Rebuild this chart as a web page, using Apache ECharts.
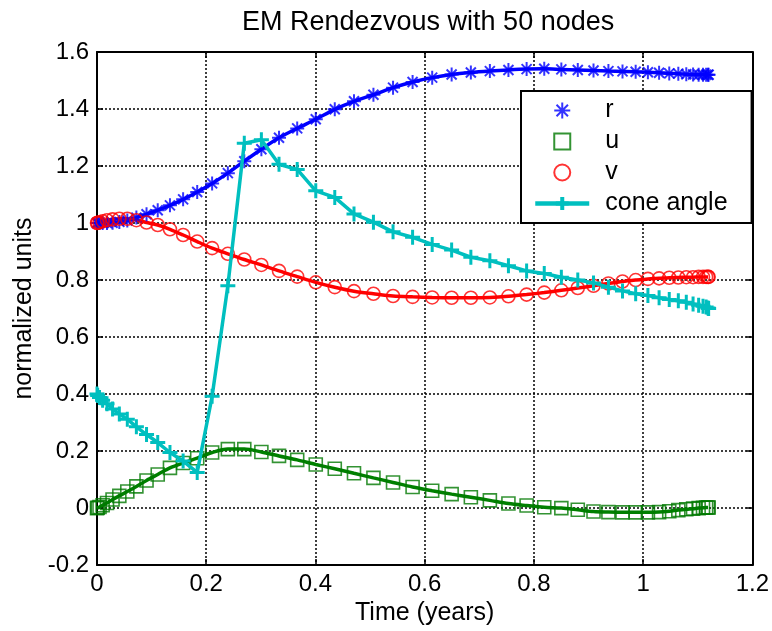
<!DOCTYPE html>
<html>
<head>
<meta charset="utf-8">
<script src="https://cdn.jsdelivr.net/npm/echarts@6/dist/echarts.min.js"></script>
<style>
html,body{margin:0;padding:0;background:#fff;}
#chart{width:772px;height:631px;}
</style>
</head>
<body>
<div id="chart"></div>
<script>
// Node times (years)
var times = [0, 0.0012, 0.0046, 0.0103, 0.0183, 0.0285, 0.0409, 0.0555, 0.0721, 0.0907,
  0.1112, 0.1336, 0.1577, 0.1835, 0.2108, 0.2396, 0.2697, 0.3010, 0.3333, 0.3666,
  0.4006, 0.4354, 0.4706, 0.5062, 0.5421, 0.5779, 0.6138, 0.6494, 0.6846, 0.7194,
  0.7534, 0.7867, 0.8190, 0.8503, 0.8804, 0.9092, 0.9365, 0.9623, 0.9864, 1.0088,
  1.0293, 1.0479, 1.0645, 1.0791, 1.0915, 1.1017, 1.1097, 1.1154, 1.1188, 1.1200];

var rValues = [1.000, 1.000, 1.000, 1.000, 1.000, 1.001, 1.004, 1.009, 1.019, 1.031,
  1.045, 1.062, 1.083, 1.109, 1.139, 1.175, 1.217, 1.259, 1.299, 1.332,
  1.364, 1.399, 1.427, 1.450, 1.475, 1.495, 1.510, 1.521, 1.528, 1.533,
  1.537, 1.540, 1.541, 1.539, 1.537, 1.535, 1.533, 1.532, 1.531, 1.529,
  1.527, 1.525, 1.524, 1.522, 1.521, 1.520, 1.520, 1.520, 1.520, 1.520];

var uValues = [0.000, 0.001, 0.004, 0.010, 0.018, 0.030, 0.043, 0.058, 0.076, 0.097,
  0.118, 0.141, 0.158, 0.175, 0.195, 0.207, 0.207, 0.197, 0.183, 0.169,
  0.153, 0.138, 0.122, 0.106, 0.090, 0.074, 0.061, 0.049, 0.038, 0.027,
  0.016, 0.009, 0.003, 0.000, -0.006, -0.012, -0.014, -0.015, -0.015, -0.015,
  -0.014, -0.011, -0.007, -0.004, -0.002, 0.000, 0.001, 0.002, 0.002, 0.002];

var vValues = [1.000, 1.001, 1.003, 1.006, 1.010, 1.013, 1.015, 1.015, 1.010, 1.002,
  0.993, 0.978, 0.958, 0.935, 0.912, 0.892, 0.872, 0.853, 0.832, 0.812,
  0.792, 0.775, 0.761, 0.752, 0.744, 0.741, 0.739, 0.738, 0.738, 0.739,
  0.743, 0.749, 0.756, 0.764, 0.772, 0.780, 0.788, 0.795, 0.800, 0.804,
  0.806, 0.808, 0.809, 0.810, 0.810, 0.811, 0.811, 0.811, 0.811, 0.811];

var coneValues = [0.400, 0.395, 0.388, 0.378, 0.366, 0.348, 0.330, 0.312, 0.285, 0.258,
  0.230, 0.195, 0.165, 0.125, 0.392, 0.780, 1.280, 1.292, 1.206, 1.188,
  1.113, 1.090, 1.032, 1.003, 0.969, 0.950, 0.925, 0.905, 0.880, 0.868,
  0.850, 0.832, 0.823, 0.810, 0.800, 0.790, 0.775, 0.762, 0.752, 0.746,
  0.738, 0.732, 0.727, 0.722, 0.716, 0.712, 0.708, 0.705, 0.702, 0.700];

var seriesNames = ['r', 'u', 'v', 'cone angle'];
var xTicks = {min: 0, max: 1.2, interval: 0.2};
var yTicks = {min: -0.2, max: 1.6, interval: 0.2};
var titleText = 'EM Rendezvous with 50 nodes';
var xName = 'Time (years)';
var yName = 'normalized units';

function pairs(ys) { return times.map(function (t, i) { return [t, ys[i]]; }); }

var FONT = "'Liberation Sans', Arial, Helvetica, sans-serif";
var asterisk = 'path://M7,0L7,14M0,7L14,7M2,2L12,12M2,12L12,2';
var square = 'path://M0,0L14,0L14,14L0,14Z';
var plus = 'path://M7,0L7,14M0,7L14,7';

var chart = echarts.init(document.getElementById('chart'), null, {renderer: 'canvas'});

function baseX(pos, show) {
  return {
    type: 'value', position: pos, min: xTicks.min, max: xTicks.max, interval: xTicks.interval,
    axisLine: {show: true, onZero: false, lineStyle: {color: '#000', width: 2}},
    axisTick: {show: true, inside: true, length: 6, lineStyle: {color: '#000', width: 1.5}},
    axisLabel: {show: show, color: '#000', fontSize: 24, fontFamily: FONT, margin: 7},
    splitLine: {show: show, lineStyle: {color: '#000', width: 1.5, type: [2, 2]}}
  };
}
function baseY(pos, show) {
  return {
    type: 'value', position: pos, min: yTicks.min, max: yTicks.max, interval: yTicks.interval,
    axisLine: {show: true, onZero: false, lineStyle: {color: '#000', width: 2}},
    axisTick: {show: true, inside: true, length: 6, lineStyle: {color: '#000', width: 1.5}},
    axisLabel: {show: show, color: '#000', fontSize: 24, fontFamily: FONT, margin: 8},
    splitLine: {show: show, lineStyle: {color: '#000', width: 1.5, type: [2, 2]}}
  };
}

var xMain = baseX('bottom', true);
xMain.name = xName; xMain.nameLocation = 'middle'; xMain.nameGap = 24;
xMain.nameTextStyle = {color: '#000', fontSize: 25, fontFamily: FONT};
var yMain = baseY('left', true);
yMain.name = yName; yMain.nameLocation = 'middle'; yMain.nameGap = 54;
yMain.nameTextStyle = {color: '#000', fontSize: 25, fontFamily: FONT};

var legendData = seriesNames.map(function (n) {
  if (n === 'cone angle') {
    return {name: n, lineStyle: {color: '#00bfbf', width: 4.5},
      itemStyle: {color: 'rgba(0,0,0,0)', borderColor: '#00bfbf', borderWidth: 4}};
  }
  return {name: n};
});

var option = {
  backgroundColor: '#fff',
  animation: false,
  title: {
    text: titleText, left: 237, top: 4,
    textStyle: {color: '#000', fontSize: 27, fontWeight: 'normal', fontFamily: FONT}
  },
  grid: {left: 97, right: 18, top: 52, bottom: 61, containLabel: false},
  xAxis: [xMain, baseX('top', false)],
  yAxis: [yMain, baseY('right', false)],
  legend: {
    data: legendData,
    orient: 'vertical', left: 521, top: 91,
    padding: [7, 24, 7, 12],
    itemGap: 6, itemWidth: 54, itemHeight: 16,
    backgroundColor: '#fff', borderColor: '#000', borderWidth: 2,
    selectedMode: false,
    textStyle: {color: '#000', fontSize: 25, fontFamily: FONT, padding: [0, 0, 0, 11]}
  },
  series: [
    {name: 'r_line', type: 'line', data: pairs(rValues), smooth: 0.3, showSymbol: false,
      lineStyle: {color: '#0000ff', width: 3.5}, itemStyle: {color: '#0000ff'}, z: 2, silent: true},
    {name: 'u_line', type: 'line', data: pairs(uValues), smooth: 0.3, showSymbol: false,
      lineStyle: {color: '#008000', width: 3.5}, itemStyle: {color: '#008000'}, z: 2, silent: true},
    {name: 'v_line', type: 'line', data: pairs(vValues), smooth: 0.3, showSymbol: false,
      lineStyle: {color: '#ff0000', width: 3.5}, itemStyle: {color: '#ff0000'}, z: 2, silent: true},
    {name: 'r', type: 'scatter', data: pairs(rValues), symbol: asterisk, symbolSize: 14, symbolKeepAspect: true,
      itemStyle: {color: 'rgba(0,0,0,0)', borderColor: '#0000ff', borderWidth: 2}, z: 3},
    {name: 'u', type: 'scatter', data: pairs(uValues), symbol: square, symbolSize: 13, symbolKeepAspect: true,
      itemStyle: {color: 'rgba(0,0,0,0)', borderColor: '#007800', borderWidth: 1.6}, z: 3},
    {name: 'v', type: 'scatter', data: pairs(vValues), symbol: 'circle', symbolSize: 13,
      itemStyle: {color: 'rgba(0,0,0,0)', borderColor: '#ff0000', borderWidth: 1.6}, z: 3},
    {name: 'cone angle', type: 'line', data: pairs(coneValues), smooth: false,
      symbol: plus, symbolSize: 15, showAllSymbol: true, symbolKeepAspect: true,
      lineStyle: {color: '#00bfbf', width: 3.5},
      itemStyle: {color: 'rgba(0,0,0,0)', borderColor: '#00bfbf', borderWidth: 3}, z: 4}
  ]
};
chart.setOption(option);
</script>
</body>
</html>
